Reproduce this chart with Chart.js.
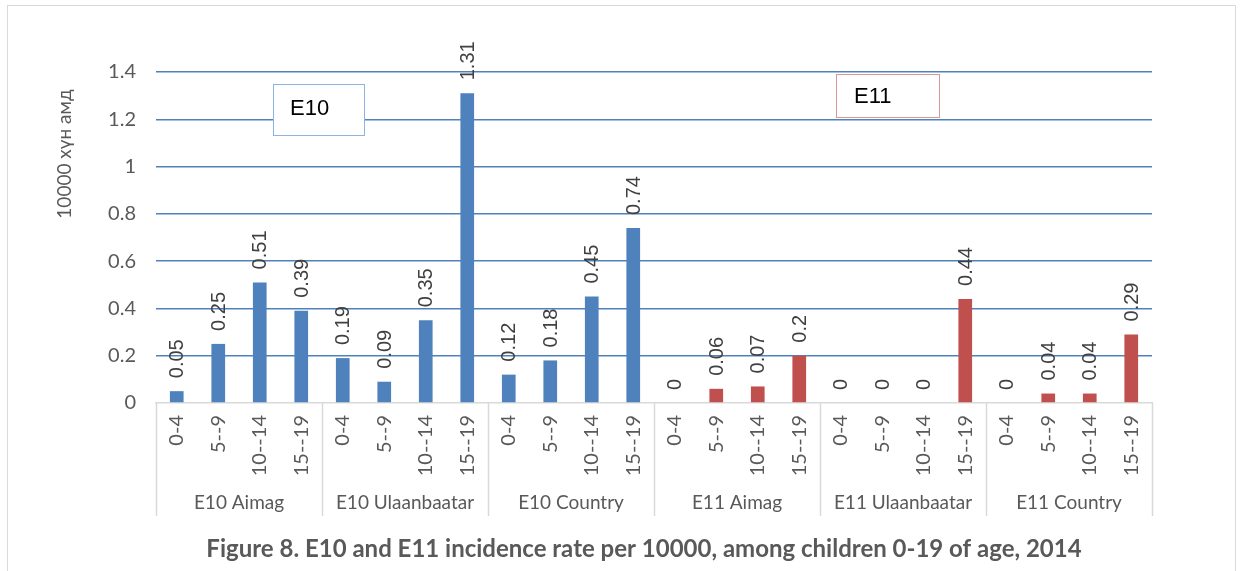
<!DOCTYPE html>
<html>
<head>
<meta charset="utf-8">
<script src="https://cdn.jsdelivr.net/npm/chart.js@4"></script>
<style>
  html, body { margin: 0; padding: 0; background: #ffffff; }
  #wrap { position: relative; width: 1240px; height: 571px; overflow: hidden; }
  #frame { position: absolute; left: 7px; top: 5px; width: 1229px; height: 600px; border: 1px solid #d9d9d9; box-sizing: border-box; }
  canvas { position: absolute; left: 0; top: 0; }
</style>
</head>
<body>
<div id="wrap">
  <div id="frame"></div>
  <canvas id="c" width="1240" height="571"></canvas>
</div>
<script>
// Age bands repeated inside each region group
const ageBands = ['0-4', '5--9', '10--14', '15--19'];
const groups = ['E10 Aimag', 'E10 Ulaanbaatar', 'E10 Country', 'E11 Aimag', 'E11 Ulaanbaatar', 'E11 Country'];

// Incidence rate per 10000 for each group, by age band
const e10Aimag = [0.05, 0.25, 0.51, 0.39];
const e10Ulaanbaatar = [0.19, 0.09, 0.35, 1.31];
const e10Country = [0.12, 0.18, 0.45, 0.74];
const e11Aimag = [0, 0.06, 0.07, 0.2];
const e11Ulaanbaatar = [0, 0, 0, 0.44];
const e11Country = [0, 0.04, 0.04, 0.29];

const yTicks = [0, 0.2, 0.4, 0.6, 0.8, 1, 1.2, 1.4];

const labels = [];
groups.forEach(() => ageBands.forEach(a => labels.push(a)));

const e10Values = [...e10Aimag, ...e10Ulaanbaatar, ...e10Country, ...Array(12).fill(null)];
const e11Values = [...Array(12).fill(null), ...e11Aimag, ...e11Ulaanbaatar, ...e11Country];

const BLUE = '#4f81bd';
const RED = '#c0504d';
const AXIS_TEXT = '#595959';
const UI_FONT = 'Lato, "Open Sans", sans-serif';

const decorations = {
  id: 'decorations',
  afterDatasetsDraw(chart) {
    const ctx = chart.ctx;
    const x = chart.scales.x;
    const area = chart.chartArea;
    const n = ageBands.length;

    // value labels above each bar, reading upward
    ctx.save();
    ctx.font = '20px "Liberation Sans", Arial, sans-serif';
    ctx.fillStyle = '#404040';
    ctx.textAlign = 'left';
    ctx.textBaseline = 'middle';
    chart.data.datasets.forEach((ds, di) => {
      const meta = chart.getDatasetMeta(di);
      meta.data.forEach((bar, i) => {
        const v = ds.data[i];
        if (v === null || v === undefined) return;
        ctx.save();
        ctx.translate(bar.x + 1, bar.y - 13);
        ctx.rotate(-Math.PI / 2);
        ctx.fillText(String(v), 0, 0);
        ctx.restore();
      });
    });
    ctx.restore();

    // group separators and group names under the age bands
    ctx.save();
    ctx.strokeStyle = '#d9d9d9';
    ctx.lineWidth = 1.5;
    const half = (x.getPixelForValue(1) - x.getPixelForValue(0)) / 2;
    for (let g = 0; g <= groups.length; g++) {
      const px = Math.round(x.getPixelForValue(g * n) - half) + 0.5;
      ctx.beginPath();
      ctx.moveTo(px, area.bottom);
      ctx.lineTo(px, area.bottom + 113);
      ctx.stroke();
    }
    ctx.font = '19px ' + UI_FONT;
    ctx.fillStyle = AXIS_TEXT;
    ctx.textAlign = 'center';
    ctx.textBaseline = 'middle';
    groups.forEach((name, g) => {
      const cx = (x.getPixelForValue(g * n) + x.getPixelForValue(g * n + n - 1)) / 2;
      ctx.fillText(name, cx, area.bottom + 100);
    });

    // axis title
    ctx.save();
    ctx.translate(65, 154);
    ctx.rotate(-Math.PI / 2);
    ctx.font = '19px ' + UI_FONT;
    ctx.fillText('10000 хүн амд', 0, 0);
    ctx.restore();

    // caption
    ctx.font = 'bold 24px ' + UI_FONT;
    ctx.fillStyle = '#595959';
    ctx.fillText('Figure 8. E10 and E11 incidence rate per 10000, among children 0-19 of age, 2014', 644, 549);

    // series name boxes
    ctx.lineWidth = 1;
    ctx.fillStyle = '#ffffff';
    ctx.fillRect(273, 84, 91, 51);
    ctx.strokeStyle = '#8db3e2';
    ctx.strokeRect(273.5, 84.5, 91, 51);
    ctx.fillRect(836, 74, 104, 43);
    ctx.strokeStyle = '#d99694';
    ctx.strokeRect(836.5, 74.5, 103, 43);
    ctx.fillStyle = '#000000';
    ctx.font = '22px "Liberation Sans", Arial, sans-serif';
    ctx.textAlign = 'left';
    ctx.fillText('E10', 290, 109);
    ctx.fillText('E11', 854, 97);
    ctx.restore();
  }
};

new Chart(document.getElementById('c'), {
  type: 'bar',
  data: {
    labels: labels,
    datasets: [
      { label: 'E10', data: e10Values, backgroundColor: BLUE, grouped: false, barPercentage: 0.33, categoryPercentage: 1 },
      { label: 'E11', data: e11Values, backgroundColor: RED, grouped: false, barPercentage: 0.33, categoryPercentage: 1 }
    ]
  },
  options: {
    responsive: false,
    animation: false,
    devicePixelRatio: 1,
    layout: { padding: { top: 72, right: 88, left: 0, bottom: 0 } },
    plugins: { legend: { display: false }, tooltip: { enabled: false } },
    scales: {
      x: {
        type: 'category',
        offset: true,
        grid: { display: false, drawTicks: false },
        border: { display: true, color: '#d9d9d9', width: 1.5 },
        ticks: {
          autoSkip: false,
          minRotation: 90,
          maxRotation: 90,
          padding: 12,
          color: AXIS_TEXT,
          font: { family: UI_FONT, size: 20 }
        },
        afterFit(scale) { scale.height = 571 - 403; }
      },
      y: {
        min: 0,
        max: 1.4,
        afterBuildTicks(scale) { scale.ticks = yTicks.map(v => ({ value: v })); },
        grid: {
          drawTicks: false,
          color: ctx => (ctx.tick && ctx.tick.value === 0 ? 'rgba(0,0,0,0)' : BLUE),
          lineWidth: 1.5
        },
        border: { display: false },
        ticks: {
          padding: 20,
          color: AXIS_TEXT,
          font: { family: UI_FONT, size: 20 },
          callback: v => String(Math.round(v * 10) / 10)
        },
        afterFit(scale) { scale.width = 156; }
      }
    }
  },
  plugins: [decorations]
});
</script>
</body>
</html>
